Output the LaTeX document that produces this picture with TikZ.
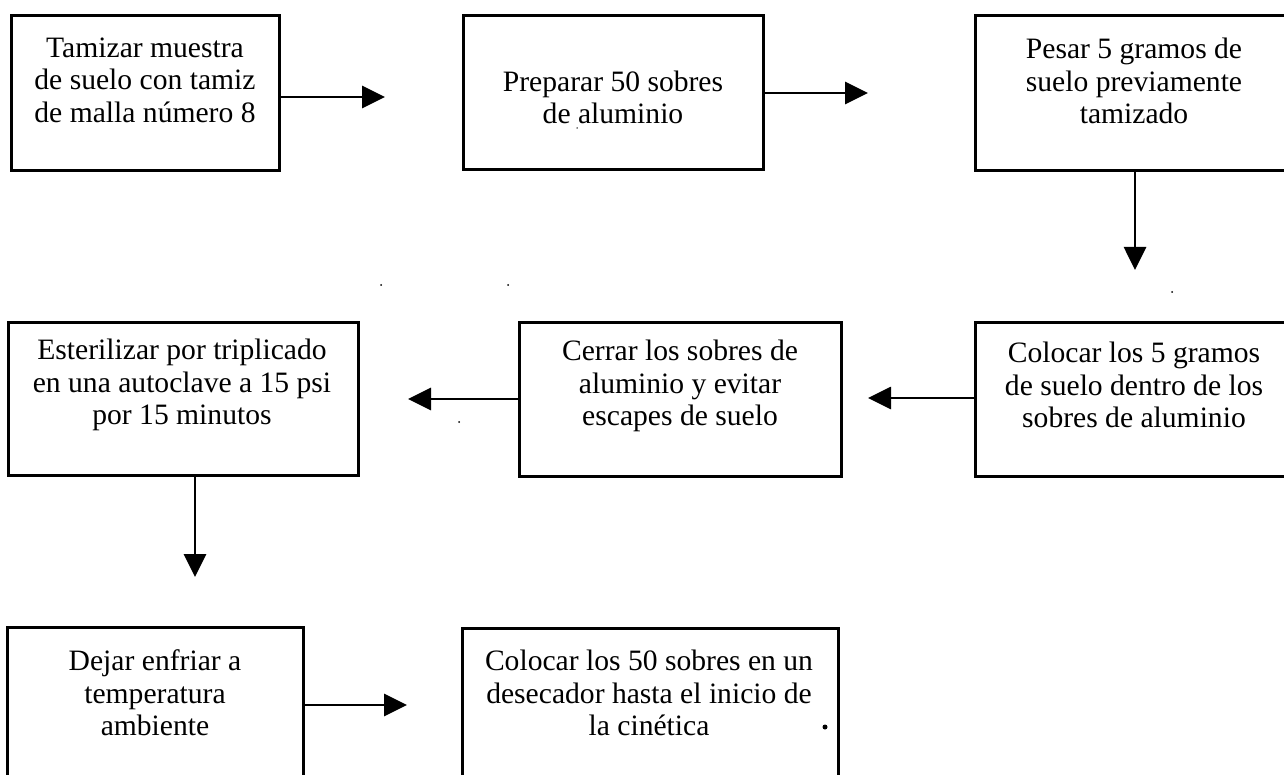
\documentclass[tikz,border=0pt]{standalone}
\usepackage{fontspec}
\setmainfont{Liberation Serif}
\usetikzlibrary{arrows.meta}
\tikzset{
  stepbox/.style={draw=black, line width=3pt, rectangle, inner sep=0pt},
  txt/.style={align=center, inner sep=0pt, font=\fontsize{29.6}{32.5}\selectfont},
  arr/.style={draw=black, line width=2.8pt, -{Triangle[length=23pt,width=22pt]}},
  speck/.style={fill=black, circle, inner sep=0pt}
}
\begin{document}
\begin{tikzpicture}[x=1pt,y=-1pt]
\useasboundingbox[fill=white] (0,0) rectangle (1284,775);
% boxes
\node[stepbox, minimum width=268pt, minimum height=155pt] (b1) at (145,93.5) {};
\node[stepbox, minimum width=300pt, minimum height=154pt] (b2) at (613,93) {};
\node[stepbox, minimum width=315pt, minimum height=155pt] (b3) at (1132.5,93.5) {};
\node[stepbox, minimum width=315pt, minimum height=153pt] (b4) at (1132.5,399.5) {};
\node[stepbox, minimum width=322pt, minimum height=153pt] (b5) at (680,399.5) {};
\node[stepbox, minimum width=350pt, minimum height=152pt] (b6) at (183,399) {};
\node[stepbox, minimum width=296pt, minimum height=190pt] (b7) at (155,722) {};
\node[stepbox, minimum width=376pt, minimum height=190pt] (b8) at (650,723) {};
% texts
\node[txt] (t1) at (145,80) {Tamizar muestra\\de suelo con tamiz\\de malla número 8};
\node[txt] (t2) at (613,97.5) {Preparar 50 sobres\\de aluminio};
\node[txt] (t3) at (1134,81) {Pesar 5 gramos de\\suelo previamente\\tamizado};
\node[txt] (t4) at (1134,385) {Colocar los 5 gramos\\de suelo dentro de los\\sobres de aluminio};
\node[txt] (t5) at (680,386) {Cerrar los sobres de\\aluminio y evitar\\escapes de suelo};
\node[txt] (t6) at (182,385) {Esterilizar por triplicado\\en una autoclave a 15 psi\\por 15 minutos};
\node[txt] (t7) at (155,693) {Dejar enfriar a\\temperatura\\ambiente};
\node[txt] (t8) at (649,693) {Colocar los 50 sobres en un\\desecador hasta el inicio de\\la cinética};
% arrow end points
\coordinate (e1) at (385,97);
\coordinate (e2) at (868,93);
\coordinate (e3) at (1135,270);
\coordinate (e4) at (868,398);
\coordinate (e5) at (408,399);
\coordinate (e6) at (195,577);
\coordinate (e7) at (407,705);
% connectors
\draw[arr] (b1.east |- e1) -- (e1);
\draw[arr] (b2.east |- e2) -- (e2);
\draw[arr] (b3.south -| e3) -- (e3);
\draw[arr] (b4.west |- e4) -- (e4);
\draw[arr] (b5.west |- e5) -- (e5);
\draw[arr] (b6.south -| e6) -- (e6);
\draw[arr] (b7.east |- e7) -- (e7);
% specks
\node[speck, minimum size=1.5pt] (s1) at (577,128) {};
\node[speck, minimum size=2pt] (s2) at (381,285) {};
\node[speck, minimum size=2pt] (s3) at (508,285) {};
\node[speck, minimum size=2pt] (s4) at (459,422) {};
\node[speck, minimum size=2pt] (s5) at (1172,292) {};
\node[speck, minimum size=5pt] (s6) at (825,727) {};
\end{tikzpicture}
\end{document}
